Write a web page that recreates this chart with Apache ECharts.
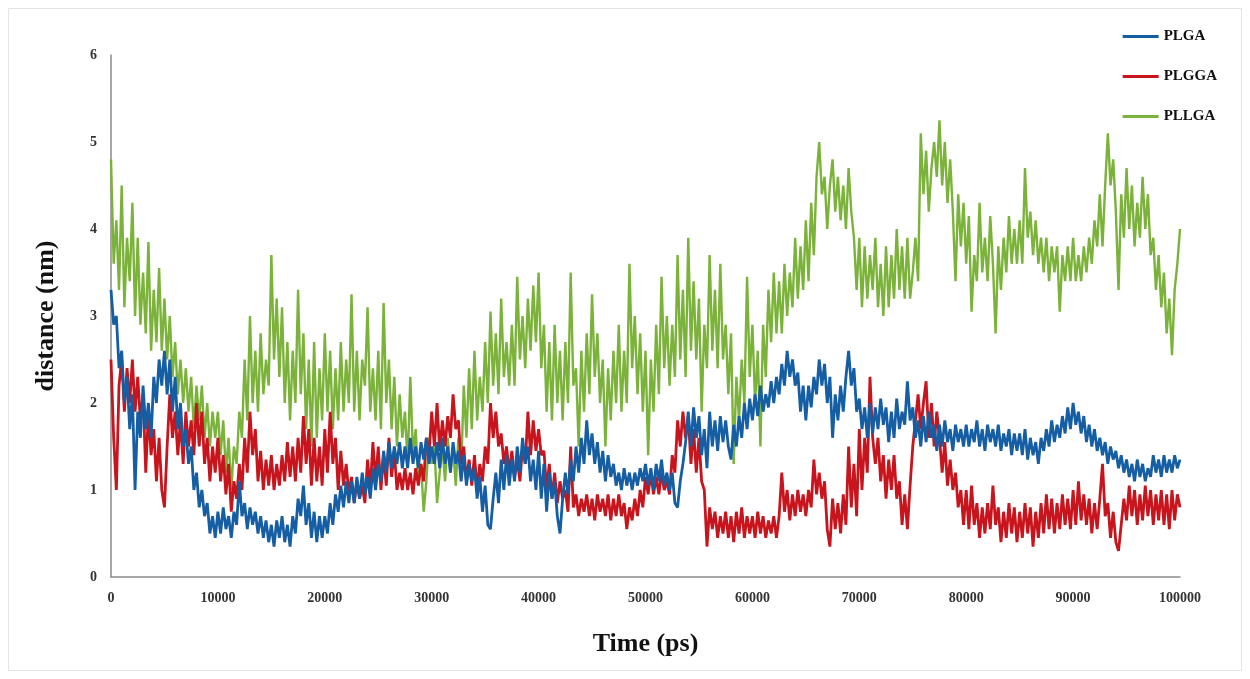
<!DOCTYPE html>
<html>
<head>
<meta charset="utf-8">
<script src="https://cdn.jsdelivr.net/npm/echarts@6/dist/echarts.min.js"></script>
<style>html,body{margin:0;padding:0;background:#fff}#c{width:1250px;height:679px}</style>
</head>
<body>
<div id="c"></div>
<script>
const seriesNames = ['PLGA', 'PLGGA', 'PLLGA'];
const timeStep = 250; // ps between samples
const xTicks = [0,10000,20000,30000,40000,50000,60000,70000,80000,90000,100000];
const yTicks = [0,1,2,3,4,5,6];

const PLGA = [
3.3,2.9,3.0,2.4,2.6,2.0,2.3,1.7,2.1,1.0,
1.9,1.6,2.2,1.7,2.0,1.6,2.3,2.0,2.5,2.2,
2.6,2.1,2.5,1.9,2.3,1.7,2.0,1.5,1.7,1.3,
1.5,1.0,1.2,0.8,1.0,0.7,0.85,0.5,0.7,0.45,
0.75,0.5,0.8,0.55,0.7,0.45,0.75,0.6,1.1,0.7,
0.85,0.55,0.8,0.6,0.75,0.5,0.7,0.45,0.65,0.4,
0.6,0.35,0.65,0.45,0.7,0.4,0.6,0.35,0.7,0.5,
0.9,0.7,1.05,0.6,0.85,0.45,0.75,0.4,0.7,0.45,
0.7,0.5,0.85,0.6,0.95,0.75,1.05,0.8,1.1,0.85,
1.1,0.85,1.15,0.9,1.2,0.95,1.15,0.9,1.25,1.0,
1.3,1.1,1.45,1.2,1.55,1.25,1.5,1.3,1.55,1.25,
1.5,1.25,1.6,1.3,1.5,1.25,1.55,1.35,1.6,1.3,
1.5,1.3,1.55,1.25,1.6,1.3,1.5,1.2,1.55,1.3,
1.45,1.1,1.4,1.05,1.3,1.1,1.25,0.9,1.15,0.75,
1.05,0.6,0.55,0.9,1.2,0.85,1.35,1.0,1.4,1.05,
1.35,1.1,1.5,1.2,1.6,1.3,1.5,1.1,1.35,1.0,
1.45,0.9,1.3,0.75,1.2,0.9,1.1,0.7,0.5,0.9,
1.2,0.95,1.35,1.1,1.5,1.2,1.6,1.3,1.8,1.4,
1.65,1.3,1.55,1.2,1.45,1.1,1.4,1.15,1.3,1.05,
1.2,1.0,1.25,1.05,1.2,1.0,1.2,1.05,1.25,1.1,
1.3,1.05,1.25,1.0,1.3,1.1,1.35,1.05,1.2,1.0,
1.2,0.85,0.8,1.1,1.3,1.55,1.9,1.5,1.95,1.6,
1.85,1.4,1.7,1.25,1.9,1.5,1.8,1.45,1.85,1.55,
1.8,1.5,1.35,1.75,1.5,1.85,1.6,2.0,1.7,2.05,
1.8,2.1,1.85,2.2,1.9,2.1,1.95,2.25,2.0,2.3,
2.1,2.45,2.2,2.6,2.3,2.5,2.2,2.35,1.9,2.2,
1.8,2.2,1.95,2.3,2.1,2.5,2.2,2.45,2.0,2.3,
1.6,2.1,1.8,2.2,1.9,2.3,2.6,2.2,2.4,1.9,
2.05,1.7,1.95,1.6,2.0,1.65,1.95,1.7,2.05,1.75,
1.95,1.55,1.9,1.6,2.05,1.7,1.9,1.75,2.25,1.8,
1.95,1.6,1.8,1.5,1.85,1.55,1.9,1.6,1.75,1.45,
1.75,1.5,1.8,1.55,1.7,1.45,1.75,1.55,1.7,1.5,
1.75,1.5,1.7,1.55,1.8,1.5,1.7,1.45,1.75,1.55,
1.7,1.5,1.75,1.45,1.65,1.5,1.7,1.4,1.65,1.45,
1.65,1.4,1.7,1.35,1.6,1.4,1.55,1.3,1.6,1.45,
1.7,1.5,1.8,1.55,1.75,1.6,1.85,1.65,1.95,1.7,
2.0,1.75,1.9,1.65,1.85,1.55,1.75,1.5,1.7,1.45,
1.6,1.4,1.55,1.3,1.5,1.35,1.45,1.25,1.4,1.2,
1.35,1.15,1.3,1.1,1.35,1.15,1.3,1.1,1.25,1.15,
1.4,1.2,1.35,1.15,1.4,1.2,1.35,1.2,1.4,1.25,
1.35];

const PLGGA = [
2.5,1.6,1.0,2.2,2.5,1.9,2.4,2.0,2.5,1.9,
2.3,1.8,2.1,1.2,1.9,1.4,1.7,1.1,1.6,1.0,
0.8,1.5,2.1,1.6,1.9,1.4,1.8,1.3,1.9,1.5,
1.8,1.4,2.0,1.5,1.9,1.3,1.6,1.1,1.5,1.2,
1.6,1.1,1.4,0.95,1.3,0.75,1.1,0.9,1.3,1.0,
1.6,1.2,1.9,1.4,1.7,1.1,1.45,1.0,1.35,1.05,
1.4,1.0,1.3,1.05,1.4,1.1,1.55,1.15,1.5,1.1,
1.6,1.2,1.85,1.3,1.7,1.05,1.6,1.1,1.5,1.05,
1.7,1.2,1.9,1.3,1.6,1.0,1.45,1.05,1.3,0.95,
1.15,0.85,1.1,0.9,1.05,0.85,1.35,1.0,1.55,1.1,
1.5,1.0,1.4,1.05,1.6,1.15,1.45,1.0,1.2,1.0,
1.25,1.0,1.2,0.95,1.25,1.05,1.3,1.1,1.6,1.4,
1.9,1.5,2.0,1.45,1.8,1.5,1.85,1.6,2.1,1.7,
1.8,1.3,1.5,1.1,1.35,1.05,1.4,1.0,1.3,1.1,
1.5,1.3,2.0,1.6,1.9,1.5,1.65,1.3,1.5,1.2,
1.45,1.15,1.35,1.1,1.5,1.3,1.9,1.4,1.8,1.45,
1.7,1.4,1.45,1.0,1.3,0.9,1.2,0.85,1.1,0.9,
1.0,0.75,1.5,0.8,0.95,0.7,0.9,0.75,0.95,0.7,
0.9,0.65,0.95,0.75,0.9,0.7,0.95,0.65,0.9,0.7,
0.95,0.7,0.85,0.55,0.8,0.65,0.9,0.7,1.0,0.8,
1.15,0.95,1.2,0.95,1.15,0.95,1.2,1.0,1.1,0.95,
1.4,1.2,1.8,1.5,1.9,1.6,1.85,1.3,1.7,1.2,
1.6,1.1,1.0,0.35,0.8,0.55,0.75,0.45,0.7,0.5,
0.75,0.45,0.7,0.4,0.75,0.5,0.8,0.45,0.7,0.5,
0.7,0.45,0.75,0.5,0.7,0.45,0.65,0.5,0.7,0.45,
0.7,1.2,0.75,1.0,0.65,0.95,0.7,1.0,0.75,0.95,
0.7,1.0,0.8,1.35,0.95,1.2,0.9,1.1,0.55,0.35,
0.9,0.55,0.85,0.5,0.95,0.6,1.5,0.8,1.3,0.7,
1.7,1.0,1.6,1.2,2.3,1.6,1.3,1.6,1.1,1.4,
0.9,1.35,1.0,1.4,0.9,1.1,0.6,0.95,0.55,1.05,
1.5,1.8,2.1,1.7,2.0,2.25,1.6,2.0,1.5,1.9,
1.6,1.2,1.55,1.05,1.35,1.0,1.2,0.8,1.0,0.6,
1.0,0.55,1.05,0.6,0.85,0.45,0.8,0.5,0.85,0.55,
1.05,0.6,0.8,0.4,0.75,0.45,0.85,0.5,0.8,0.4,
0.75,0.45,0.85,0.5,0.8,0.35,0.75,0.45,0.85,0.5,
0.95,0.55,0.9,0.5,0.85,0.55,0.95,0.6,0.9,0.55,
1.0,0.6,1.1,0.65,0.95,0.6,0.9,0.5,0.85,0.55,
0.9,1.3,0.7,0.85,0.45,0.75,0.4,0.3,0.6,0.9,
0.65,1.05,0.7,1.0,0.6,0.95,0.65,1.05,0.7,1.0,
0.6,0.95,0.65,1.0,0.6,0.95,0.55,1.0,0.65,0.95,
0.8];

const PLLGA = [
4.8,3.6,4.1,3.3,4.5,3.1,3.9,3.4,4.3,3.0,
3.9,2.9,3.5,2.8,3.85,2.6,3.3,2.7,3.55,2.6,
3.2,2.5,3.0,2.3,2.7,2.1,2.5,2.0,2.4,1.9,
2.3,1.7,2.2,1.8,2.2,1.6,2.0,1.5,1.9,1.6,
1.9,1.4,1.8,1.2,1.6,1.0,1.5,1.3,1.9,1.6,
2.5,1.8,3.0,2.0,2.6,1.9,2.8,2.1,2.5,2.2,
3.7,2.5,3.2,2.3,3.1,2.0,2.7,1.8,2.6,2.0,
3.3,2.1,2.8,1.7,2.5,1.5,2.7,1.6,2.4,1.8,
2.8,1.9,2.6,1.7,2.4,1.8,2.7,1.9,2.5,2.0,
3.25,1.9,2.6,1.8,2.5,2.2,3.1,1.9,2.4,1.8,
2.6,1.7,3.15,2.0,2.5,1.7,2.3,1.5,2.1,1.6,
1.9,1.3,2.3,1.4,1.7,1.1,1.3,0.75,1.1,1.6,
1.3,1.5,0.85,1.2,1.5,1.1,1.6,1.2,1.5,1.05,
1.6,1.2,2.2,1.6,2.4,1.7,2.6,1.8,2.3,1.9,
2.7,2.0,3.05,2.2,2.8,2.1,3.2,2.3,2.7,2.2,
2.9,2.2,3.45,2.5,3.0,2.4,3.2,2.6,3.35,2.7,
3.5,2.4,2.9,1.9,2.7,1.8,2.9,2.0,2.6,1.8,
2.7,2.0,3.5,2.2,2.4,1.5,2.6,1.9,2.8,2.1,
3.25,2.3,2.8,2.0,2.5,1.5,2.4,1.8,2.6,2.0,
2.9,1.9,2.6,2.0,3.6,2.4,3.0,2.1,2.8,1.9,
2.6,1.4,2.5,1.9,2.9,2.1,3.45,2.4,3.0,2.2,
2.9,2.3,3.7,2.5,3.3,2.3,3.9,2.6,3.4,2.5,
3.2,1.9,2.9,2.4,3.7,2.6,3.3,2.4,3.6,2.5,
2.9,2.1,2.8,1.3,2.3,1.8,2.5,2.0,3.45,2.3,
2.9,2.0,2.6,1.5,2.9,2.3,3.3,2.7,3.5,2.8,
3.4,2.8,3.6,3.0,3.5,3.1,3.9,3.2,3.8,3.3,
4.1,3.4,4.3,3.7,4.6,5.0,4.4,4.6,4.0,4.5,
4.8,4.2,4.6,4.1,4.5,4.0,4.7,4.2,3.9,3.3,
3.9,3.1,3.8,3.2,3.7,3.3,3.9,3.1,3.6,3.0,
3.8,3.1,3.7,3.2,4.0,3.3,3.8,3.2,3.9,3.2,
3.5,3.9,3.4,5.1,4.4,4.9,4.2,4.7,5.0,4.6,
5.25,4.5,5.0,4.3,4.8,4.2,3.4,4.4,3.8,4.3,
3.6,4.15,3.05,3.7,3.4,4.3,3.5,3.9,3.4,4.15,
3.6,2.8,3.8,3.3,3.9,3.5,4.15,3.6,4.0,3.6,
4.1,3.6,4.7,3.9,4.2,3.7,4.1,3.6,3.9,3.5,
3.9,3.4,3.8,3.5,3.8,3.05,3.7,3.4,3.8,3.4,
3.9,3.4,3.7,3.4,3.8,3.5,3.9,3.6,4.1,3.8,
4.4,3.8,4.5,5.1,4.5,4.8,4.2,3.3,4.4,3.9,
4.7,4.0,4.5,3.8,4.3,3.9,4.6,4.0,4.4,3.7,
3.9,3.3,3.7,3.1,3.5,2.8,3.2,2.55,3.3,3.6,
4.0];

const colors = ['#165ea3', '#c8141c', '#7bb239'];
const serif = 'Liberation Serif';

function toPairs(arr){ return arr.map((v,i)=>[i*timeStep, v]); }

const chart = echarts.init(document.getElementById('c'), null, {renderer:'canvas'});
chart.setOption({
  animation: false,
  backgroundColor: '#fff',
  color: colors,
  graphic: [{
    type: 'rect', shape: {x: 8.5, y: 8.5, width: 1233, height: 662},
    style: {fill: 'none', stroke: '#e3e3e3', lineWidth: 1}, silent: true, z: -1
  }],
  grid: {left: 111, right: 70, top: 55, bottom: 102, containLabel: false},
  legend: {
    orient: 'vertical', right: 28, top: 24, itemGap: 25,
    itemWidth: 36, itemHeight: 3, icon: 'rect',
    textStyle: {fontFamily: serif, fontWeight: 'bold', fontSize: 15, color: '#111'},
    data: seriesNames
  },
  xAxis: {
    type: 'value', min: xTicks[0], max: xTicks[xTicks.length-1], interval: xTicks[1]-xTicks[0],
    name: 'Time (ps)', nameLocation: 'middle', nameGap: 54,
    nameTextStyle: {fontFamily: serif, fontWeight: 'bold', fontSize: 26, color: '#111'},
    axisLine: {show: true, lineStyle: {color: '#8a8a8a', width: 1.5}},
    axisTick: {show: false},
    splitLine: {show: false},
    axisLabel: {fontFamily: serif, fontWeight: 'bold', fontSize: 14, color: '#333', margin: 14,
      formatter: v => String(v)}
  },
  yAxis: {
    type: 'value', min: yTicks[0], max: yTicks[yTicks.length-1], interval: yTicks[1]-yTicks[0],
    name: 'distance (nm)', nameLocation: 'middle', nameGap: 52,
    nameTextStyle: {fontFamily: serif, fontWeight: 'bold', fontSize: 26, color: '#111'},
    axisLine: {show: true, lineStyle: {color: '#8a8a8a', width: 1.5}},
    axisTick: {show: false},
    splitLine: {show: false},
    axisLabel: {fontFamily: serif, fontWeight: 'bold', fontSize: 14, color: '#333', margin: 14}
  },
  series: [
    {name: seriesNames[2], type: 'line', data: toPairs(PLLGA), showSymbol: false, z: 1,
     lineStyle: {width: 2.4, color: colors[2]}, itemStyle: {color: colors[2]}},
    {name: seriesNames[1], type: 'line', data: toPairs(PLGGA), showSymbol: false, z: 2,
     lineStyle: {width: 2.8, color: colors[1]}, itemStyle: {color: colors[1]}},
    {name: seriesNames[0], type: 'line', data: toPairs(PLGA), showSymbol: false, z: 3,
     lineStyle: {width: 2.8, color: colors[0]}, itemStyle: {color: colors[0]}}
  ]
});
</script>
</body>
</html>
